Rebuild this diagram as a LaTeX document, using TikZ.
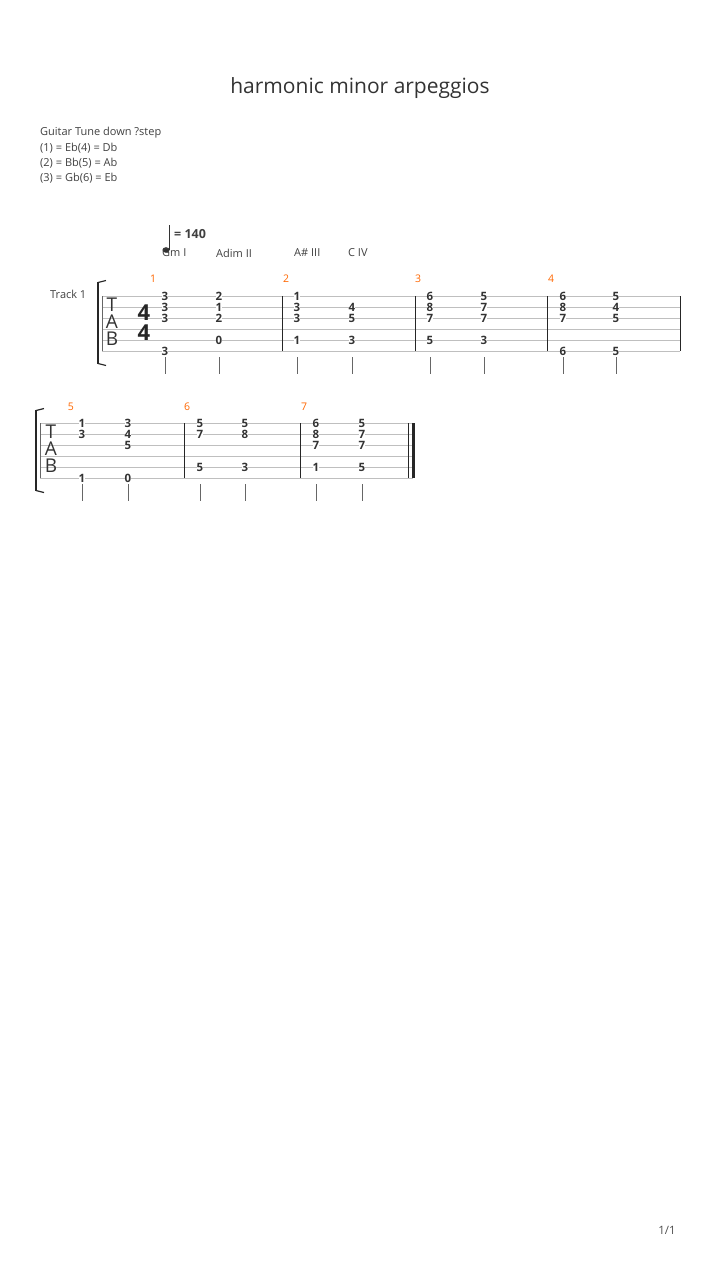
\documentclass[tikz,border=0pt]{standalone}
\usepackage{fontspec}
\setmainfont{Open Sans}
\begin{document}
\begin{tikzpicture}[x=1pt,y=-1pt,
  fr/.style={font=\bfseries\fontsize{11.5}{11.5}\selectfont,fill=white,inner sep=0.2pt,text=black!80},
  mn/.style={font=\fontsize{10.5}{10.5}\selectfont,text=orange!80!red},
  txt/.style={font=\fontsize{11}{13}\selectfont,text=black!75,anchor=west,inner sep=0},
  str/.style={draw=black!25,line width=0.6pt},
  bar/.style={draw=black!85,line width=0.9pt},
  stem/.style={draw=black!60,line width=0.7pt}]
\useasboundingbox (0,0) rectangle (720,1280);
\node[font=\fontsize{21}{21}\selectfont,text=black!80] (title) at (360,88) {harmonic minor arpeggios};
\node[txt] (t0) at (40,133) {Guitar Tune down ?step};
\node[txt] (t1) at (40,148) {(1) = Eb(4) = Db};
\node[txt] (t2) at (40,163) {(2) = Bb(5) = Ab};
\node[txt] (t3) at (40,178) {(3) = Gb(6) = Eb};
% tempo
\fill[black!80] (166,250) ellipse (3.6 and 2.8);
\draw[black!80,line width=0.7pt] (169.5,250) -- (169.5,225);
\node[txt,font=\bfseries\fontsize{12.5}{13}\selectfont] (tempo) at (174,234) {= 140};
\node[txt] (c1) at (162,253) {Gm I};
\node[txt] (c2) at (216,253) {Adim II};
\node[txt] (c3) at (294,253) {A\# III};
\node[txt] (c4) at (348,253) {C IV};
\node[txt] (track) at (50,294) {Track 1};
% system 1
\foreach \i in {0,...,5} \draw[str] (102,296+11*\i) -- (680,296+11*\i);
\draw[black!60,line width=0.5pt] (102,296) -- (102,351);
\draw[line width=2.2pt,black!85] (98,282) -- (98,364);
\draw[line width=1.2pt,black!85] (98,282.5) -- (106,280.5) (98,363.5) -- (106,365.5);
\foreach \x in {282,415,547,680} \draw[bar] (\x,296) -- (\x,351);
\node[font=\fontsize{19}{19}\selectfont,text=black!80] (T1) at (112,305) {T};
\node[font=\fontsize{19}{19}\selectfont,text=black!80] (A1) at (112,322) {A};
\node[font=\fontsize{19}{19}\selectfont,text=black!80] (B1) at (112,339) {B};
\node[font=\bfseries\fontsize{22}{22}\selectfont,text=black!85] (ts1) at (144,313) {4};
\node[font=\bfseries\fontsize{22}{22}\selectfont,text=black!85] (ts2) at (144,333) {4};
\node[mn] (m1) at (153,279) {1};
\node[mn] (m2) at (286,279) {2};
\node[mn] (m3) at (418,279) {3};
\node[mn] (m4) at (551,279) {4};
\foreach \x/\s/\f in {165/1/3,165/2/3,165/3/3,165/6/3,219/1/2,219/2/1,219/3/2,219/5/0,
  297/1/1,297/2/3,297/3/3,297/5/1,352/2/4,352/3/5,352/5/3,
  430/1/6,430/2/8,430/3/7,430/5/5,484/1/5,484/2/7,484/3/7,484/5/3,
  563/1/6,563/2/8,563/3/7,563/6/6,616/1/5,616/2/4,616/3/5,616/6/5}
  \node[fr] (n\x-\s) at (\x,296+11*\s-11) {\f};
\foreach \x in {165,219,297,352,430,484,563,616} \draw[stem] (\x,357) -- (\x,374);
% system 2
\foreach \i in {0,...,5} \draw[str] (40,423+11*\i) -- (413,423+11*\i);
\draw[black!60,line width=0.5pt] (40,423) -- (40,478);
\draw[line width=2.2pt,black!85] (36,410) -- (36,491);
\draw[line width=1.2pt,black!85] (36,410.5) -- (44,408.5) (36,490.5) -- (44,492.5);
\foreach \x in {184,300,408} \draw[bar] (\x,423) -- (\x,478);
\draw[line width=3pt,black!85] (413,423) -- (413,478);
\node[font=\fontsize{19}{19}\selectfont,text=black!80] (T2) at (51,432) {T};
\node[font=\fontsize{19}{19}\selectfont,text=black!80] (A2) at (51,449) {A};
\node[font=\fontsize{19}{19}\selectfont,text=black!80] (B2) at (51,466) {B};
\node[mn] (m5) at (71,407) {5};
\node[mn] (m6) at (187,407) {6};
\node[mn] (m7) at (304,407) {7};
\foreach \x/\s/\f in {82/1/1,82/2/3,82/6/1,128/1/3,128/2/4,128/3/5,128/6/0,
  200/1/5,200/2/7,200/5/5,245/1/5,245/2/8,245/5/3,
  316/1/6,316/2/8,316/3/7,316/5/1,362/1/5,362/2/7,362/3/7,362/5/5}
  \node[fr] (p\x-\s) at (\x,423+11*\s-11) {\f};
\foreach \x in {82,128,200,245,316,362} \draw[stem] (\x,484) -- (\x,501);
\node[font=\fontsize{11.5}{11.5}\selectfont,text=black!70] (page) at (667,1230) {1/1};
\end{tikzpicture}
\end{document}
